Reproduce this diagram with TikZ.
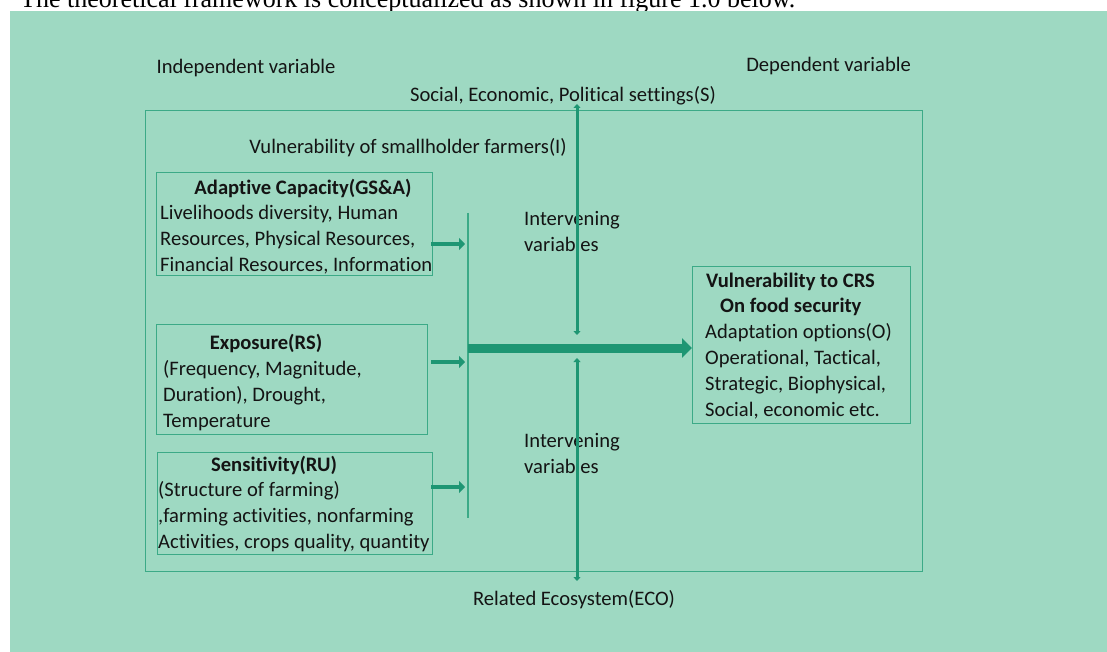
\documentclass[tikz,border=0pt]{standalone}
\usepackage{fontspec}
\setmainfont{Carlito}[Ligatures=NoCommon]
\newfontfamily\titlefont{Liberation Serif}
\usetikzlibrary{arrows.meta}
\definecolor{bgmint}{RGB}{158,217,194}
\definecolor{tealdark}{RGB}{30,150,115}
\definecolor{teallight}{RGB}{60,170,135}
\definecolor{txt}{RGB}{20,20,20}
\begin{document}
\begin{tikzpicture}[x=1pt,y=-1pt,
  lbl/.style={font=\fontsize{20.6}{26}\selectfont, text=txt, inner sep=0pt},
  ttl/.style={font=\fontsize{20.6}{26}\selectfont\bfseries, text=txt, inner sep=0pt},
  body/.style={lbl, align=left, anchor=west},
  boxnode/.style={draw=teallight, line width=1pt, inner sep=0pt, anchor=north west},
  smallarrow/.style={draw=tealdark, line width=4pt, -{Triangle[length=6pt,width=12pt]}},
  bigarrow/.style={draw=tealdark, line width=9pt, -{Triangle[length=10pt,width=19pt]}},
  vertarrow/.style={draw=tealdark, line width=3pt, {Triangle[length=4pt,width=7pt]}-{Triangle[length=4pt,width=7pt]}}
]
\useasboundingbox (0,0) rectangle (1107,652);
% title (partly hidden)
\node[anchor=base west, font=\titlefont\fontsize{26}{30}\selectfont, inner sep=0pt] (title) at (20,8) {The theoretical framework is conceptualized as shown in figure 1.0 below.};
% background
\fill[bgmint] (10,11) rectangle (1107,652);

% header labels
\node[lbl] (indep) at (246,68) {Independent variable};
\node[lbl, anchor=east] (dep) at (911,66) {Dependent variable};
\node[lbl] (social) at (563,96) {Social, Economic, Political settings(S)};
\node[lbl] (eco) at (574,600) {Related Ecosystem(ECO)};

% outer frame
\node[draw=teallight, line width=1.2pt, inner sep=0pt, anchor=north west, minimum width=777pt, minimum height=461pt] (outer) at (145,110) {};

\node[lbl] (vuln) at (408,148) {Vulnerability of smallholder farmers(I)};

% left boxes
\node[boxnode, minimum width=276pt, minimum height=103pt] (ac) at (156,172) {};
\node[ttl] (actitle) at (303,188) {Adaptive Capacity(GS\&A)};
\node[body] (acbody) at (160,240) {Livelihoods diversity, Human\\Resources, Physical Resources,\\Financial Resources, Information};

\node[boxnode, minimum width=271pt, minimum height=110pt] (ex) at (156,324) {};
\node[ttl] (extitle) at (266,343) {Exposure(RS)};
\node[body] (exbody) at (163,396) {(Frequency, Magnitude,\\Duration), Drought,\\Temperature};

\node[boxnode, minimum width=275pt, minimum height=102pt] (se) at (157,452) {};
\node[ttl] (setitle) at (274,465) {Sensitivity(RU)};
\node[body] (sebody) at (158,517) {(Structure of farming)\\,farming activities, nonfarming\\Activities, crops quality, quantity};

% right box
\node[boxnode, minimum width=218pt, minimum height=157pt] (out) at (692,266) {};
\node[ttl, anchor=west] (outt1) at (706,282) {Vulnerability to CRS};
\node[ttl, anchor=west] (outt2) at (720,307) {On food security};
\node[body] (outbody) at (705,371) {Adaptation options(O)\\Operational, Tactical,\\Strategic, Biophysical,\\Social, economic etc.};

% intervening labels
\node[lbl, align=left, anchor=west] (int1) at (524,231) {Intervening\\variables};
\node[lbl, align=left, anchor=west] (int2) at (524,453) {Intervening\\variables};

% collector line
\coordinate (ctop) at (468,213);
\coordinate (cbot) at (468,518);
\draw[teallight, line width=2pt] (ctop) -- (cbot);

% small arrows
\coordinate (s1) at (431,244); \coordinate (e1) at (465,244);
\coordinate (s2) at (431,362); \coordinate (e2) at (465,362);
\coordinate (s3) at (431,487); \coordinate (e3) at (465,487);
\draw[smallarrow] (s1) -- (e1);
\draw[smallarrow] (s2) -- (e2);
\draw[smallarrow] (s3) -- (e3);

% main arrow
\coordinate (mstart) at (468,348);
\draw[bigarrow] (mstart) -- (out.west |- mstart);

% vertical arrows
\coordinate (vt1) at (577,104); \coordinate (vt2) at (577,335);
\coordinate (vb1) at (577,358); \coordinate (vb2) at (577,581);
\draw[vertarrow] (vt1) -- (vt2);
\draw[vertarrow] (vb1) -- (vb2);
\end{tikzpicture}
\end{document}
